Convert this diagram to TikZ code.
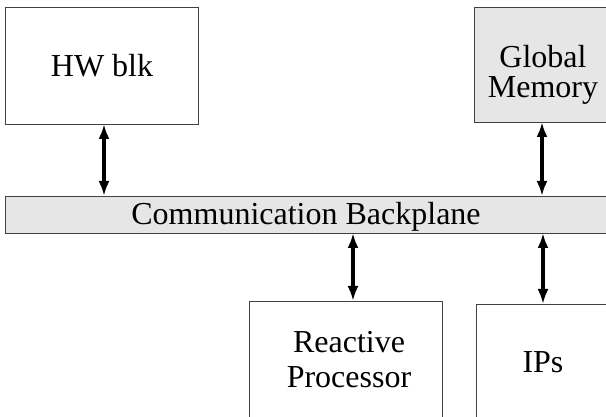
\documentclass[tikz,border=0pt]{standalone}
\usepackage{fontspec}
\setmainfont{Liberation Serif}
\usetikzlibrary{arrows.meta}
\definecolor{boxgray}{HTML}{E6E6E6}
\begin{document}
\begin{tikzpicture}[x=1pt,y=-1pt,
  blk/.style={draw=black!75,line width=0.9pt,fill=white,inner sep=0pt,outer sep=0pt},
  gblk/.style={blk,fill=boxgray},
  lbl/.style={font=\fontsize{32}{31}\selectfont,align=center,inner sep=0pt},
  arr/.style={line width=3.6pt,{Latex[length=15pt,width=11pt]}-{Latex[length=15pt,width=11pt]},shorten <=0pt,shorten >=0pt}]
\useasboundingbox (0,0) rectangle (606,417);
\clip (0,0) rectangle (606,417);
% boxes
\node[blk,minimum width=193pt,minimum height=117pt] (hw) at (101.5,65.5) {};
\node[gblk,minimum width=150pt,minimum height=115pt] (gm) at (549,64.5) {};
\node[gblk,minimum width=620pt,minimum height=37pt] (bp) at (315,214.5) {};
\node[blk,minimum width=193pt,minimum height=130pt] (rp) at (345.5,366) {};
\node[blk,minimum width=150pt,minimum height=130pt] (ip) at (551,369) {};
% labels
\node[lbl,anchor=base] (hwt) at (102,77) {HW blk};
\node[lbl,font=\fontsize{32}{30}\selectfont] (gmt) at (543,75) {Global\\Memory};
\node[lbl,anchor=base] (bpt) at (306,225) {Communication Backplane};
\node[lbl,font=\fontsize{32}{35}\selectfont] (rpt) at (349,360) {Reactive\\Processor};
\node[lbl,anchor=base] (ipt) at (543,372) {IPs};
% connectors
\draw[arr] ([xshift=2.5pt]hw.south) -- ([xshift=2.5pt]hw.south |- bp.north);
\draw[arr] ([xshift=-7pt]gm.south) -- ([xshift=-7pt]gm.south |- bp.north);
\draw[arr] ([xshift=7.5pt]rp.north) -- ([xshift=7.5pt]rp.north |- bp.south);
\draw[arr] ([xshift=-8pt]ip.north) -- ([xshift=-8pt]ip.north |- bp.south);
\end{tikzpicture}
\end{document}
